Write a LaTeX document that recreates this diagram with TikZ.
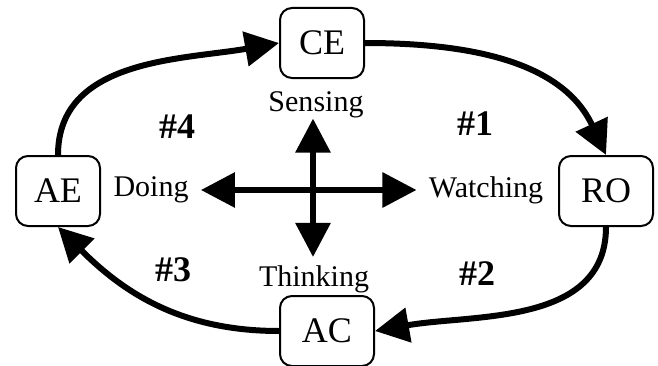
\documentclass[tikz,border=0pt]{standalone}
\usepackage{fontspec}
\setmainfont{Liberation Serif}
\usepackage{tikz}
\usetikzlibrary{arrows.meta}

\begin{document}
\begin{tikzpicture}[x=0.5pt,y=0.5pt,
    stage/.style={draw,line width=1pt,rounded corners=6pt,minimum width=42pt,
        minimum height=35pt,inner sep=0pt,font=\fontsize{18}{20}\selectfont},
    mode/.style={inner xsep=6pt,inner ysep=0pt,font=\fontsize{15}{17}\selectfont},
    phase/.style={font=\fontsize{18}{20}\selectfont\bfseries},
    bigarrow/.style={line width=3pt,-{Triangle[length=17pt,width=17pt]}}]
    \useasboundingbox (0,0) rectangle (658,365);
    % the four stages
    \node[stage] (CE) at (322,322) {CE};
    \node[stage,minimum width=47pt] (RO) at (606,174) {RO};
    \node[stage,minimum width=47pt] (AC) at (327,34) {AC};
    \node[stage] (AE) at (58,174) {AE};
    % the learning modes
    \node[mode] (sensing) at (316,260) {Sensing};
    \node[mode] (watching) at (486,175) {Watching};
    \node[mode,inner ysep=4pt] (thinking) at (314,86) {Thinking};
    \node[mode] (doing) at (151,175) {Doing};
    \coordinate (mid) at (313,175);
    \draw[bigarrow] (mid) -- (mid |- sensing.south);
    \draw[bigarrow] (mid) -- (watching.west);
    \draw[bigarrow] (mid) -- (mid |- thinking.north);
    \draw[bigarrow] (mid) -- (doing.east);
    % the cycle
    \draw[bigarrow] (CE.east) to[out=0,in=115] (RO.north);
    \draw[bigarrow] (RO.south) to[out=-90,in=10] (AC.east);
    \draw[bigarrow] (AC.west) to[out=180,in=-45] (AE.south);
    \draw[bigarrow] (AE.north) to[out=90,in=190] (CE.west);
    \node[phase] (p1) at (475,241) {\#1};
    \node[phase] (p2) at (477,91) {\#2};
    \node[phase] (p3) at (173,95) {\#3};
    \node[phase] (p4) at (177,238) {\#4};
\end{tikzpicture}
\end{document}
